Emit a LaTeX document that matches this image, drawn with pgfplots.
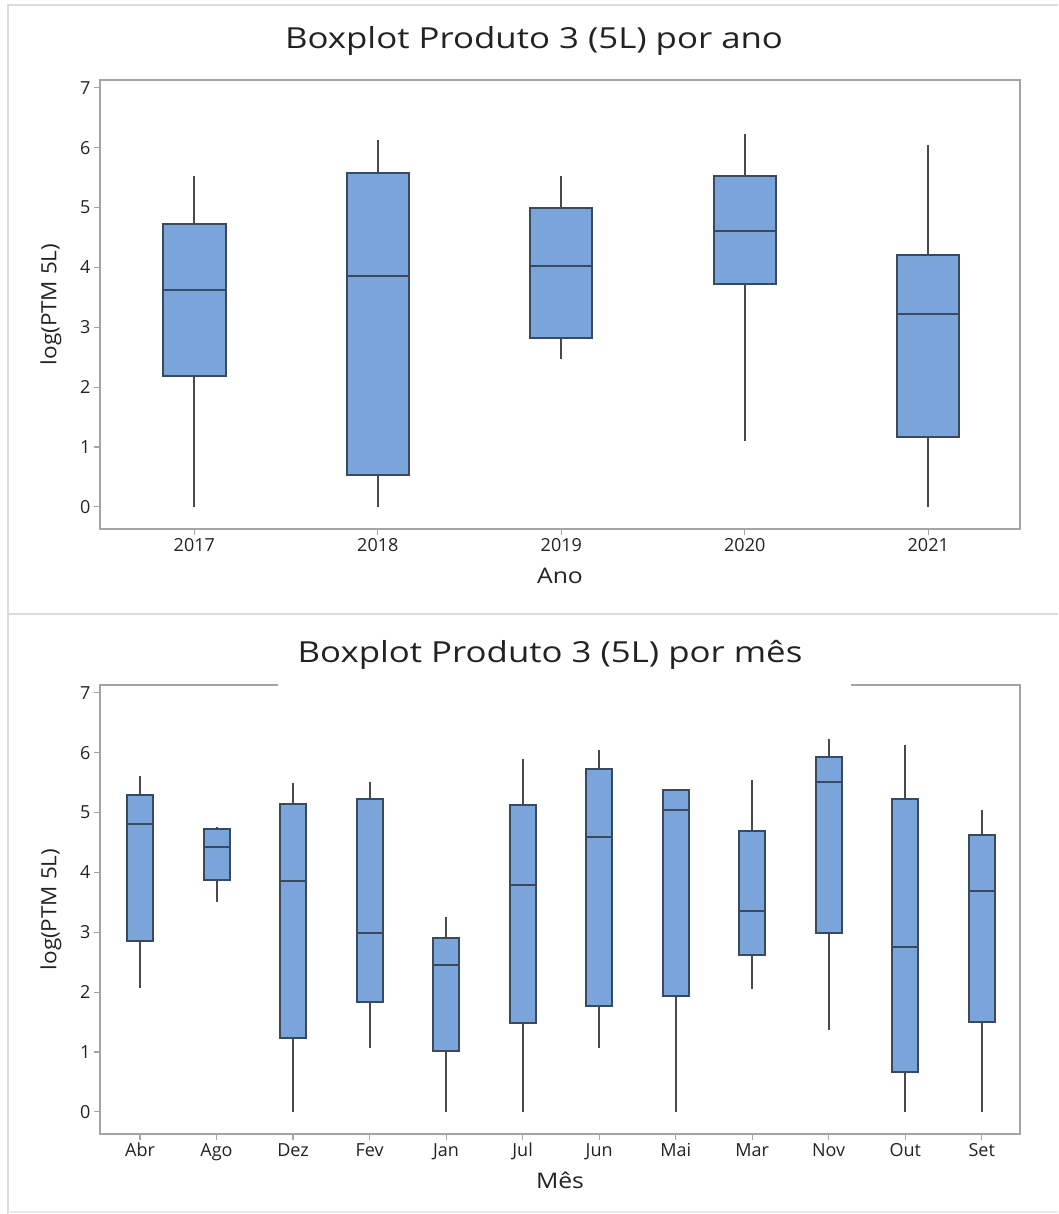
\documentclass[border=0pt]{standalone}
\usepackage{fontspec}
\setmainfont{Open Sans}
\usepackage{graphicx}
\usepackage{pgfplots}
\usepgfplotslibrary{statistics}
\pgfplotsset{compat=1.18}

\definecolor{boxfill}{HTML}{7BA5DA}
\definecolor{boxedge}{HTML}{3A4A5E}
\definecolor{whisk}{HTML}{4A4A4A}
\definecolor{framegray}{HTML}{A4A4A4}
\definecolor{panelgray}{HTML}{DCDCDC}
\definecolor{txt}{HTML}{222222}

\newcommand{\wide}[2]{\scalebox{#1}[1]{#2}}

\pgfplotsset{
  bpaxis/.style={
    scale only axis, width=920pt, height=449pt,
    ymin=-0.37, ymax=7.13, ytick={0,...,7},
    tick pos=left, tick align=outside,
    major tick length=6pt,
    axis line style={framegray, line width=2pt},
    tick style={framegray, line width=1.2pt},
    every tick label/.append style={font=\fontsize{18}{18}\selectfont, text=txt},
    xticklabel style={anchor=base, yshift=-17pt},
    /pgf/number format/assume math mode=true,
    ylabel={\wide{1.07}{log(PTM 5L)}},
    ylabel style={at={(axis description cs:-0.0533,0.5)}, anchor=center,
      font=\fontsize{21}{21}\selectfont, text=txt},
    xlabel style={at={(axis description cs:0.5,-0.1214)}, anchor=base,
      font=\fontsize{21.5}{21.5}\selectfont, text=txt},
    boxplot/draw direction=y,
    boxplot/box extend=0.34,
    boxplot/whisker extend=0,
    boxplot/every box/.style={draw=boxedge, fill=boxfill, line width=2pt},
    boxplot/every median/.style={draw=boxedge, line width=2pt},
    boxplot/every whisker/.style={draw=whisk, line width=2pt},
  },
}

% five-number summaries: low whisker, Q1, median, Q3, high whisker, position
\newcommand{\bp}[6]{%
  \addplot[boxplot prepared={lower whisker=#1, lower quartile=#2, median=#3,
    upper quartile=#4, upper whisker=#5, draw position=#6}] coordinates {};}

\begin{document}
\begin{tikzpicture}
\path[use as bounding box] (0pt,0pt) rectangle (1058pt,1214pt);

% panel borders
\draw[panelgray, line width=2pt] (8pt,0pt) -- (8pt,1209pt) -- (1058pt,1209pt);
\draw[panelgray, line width=2pt] (8pt,600pt) -- (1058pt,600pt);
\draw[panelgray!60, line width=2pt] (8pt,2pt) -- (1058pt,2pt);

% ---- by year ----
\begin{axis}[bpaxis, at={(100pt,685pt)}, anchor=south west,
    xmin=0.486, xmax=5.5, xtick={1,...,5},
    xticklabels={2017,2018,2019,2020,2021}, xlabel={\wide{1.15}{Ano}}]
\bp{0}{2.18}{3.63}{4.73}{5.52}{1}
\bp{0}{0.53}{3.85}{5.57}{6.12}{2}
\bp{2.47}{2.82}{4.03}{5.00}{5.53}{3}
\bp{1.10}{3.73}{4.60}{5.52}{6.23}{4}
\bp{0}{1.17}{3.22}{4.20}{6.05}{5}
\end{axis}
\node[anchor=base, font=\fontsize{29}{29}\selectfont, text=txt] at (534pt,1165pt)
  {\wide{1.2}{Boxplot Produto 3 (5L) por ano}};

% ---- by month ----
\begin{axis}[bpaxis, at={(100pt,80pt)}, anchor=south west,
    xmin=0.477, xmax=12.5, xtick={1,...,12},
    xticklabels={Abr,Ago,Dez,Fev,Jan,Jul,Jun,Mai,Mar,Nov,Out,Set},
    xlabel={\wide{1.15}{Mês}}]
\bp{2.07}{2.85}{4.81}{5.30}{5.61}{1}
\bp{3.51}{3.87}{4.42}{4.72}{4.75}{2}
\bp{0}{1.24}{3.86}{5.14}{5.50}{3}
\bp{1.07}{1.83}{2.98}{5.22}{5.51}{4}
\bp{0}{1.01}{2.45}{2.90}{3.25}{5}
\bp{0}{1.49}{3.79}{5.12}{5.90}{6}
\bp{1.07}{1.77}{4.59}{5.72}{6.04}{7}
\bp{0}{1.94}{5.05}{5.37}{5.39}{8}
\bp{2.05}{2.62}{3.35}{4.69}{5.54}{9}
\bp{1.37}{2.98}{5.51}{5.93}{6.23}{10}
\bp{0}{0.67}{2.75}{5.22}{6.13}{11}
\bp{0}{1.50}{3.69}{4.63}{5.05}{12}
\end{axis}
% the title block masks the middle of the frame's top edge
\fill[white] (278pt,525pt) rectangle (851pt,533pt);
\node[anchor=base, font=\fontsize{29}{29}\selectfont, text=txt] at (550pt,551pt)
  {\wide{1.2}{Boxplot Produto 3 (5L) por mês}};
\end{tikzpicture}
\end{document}
